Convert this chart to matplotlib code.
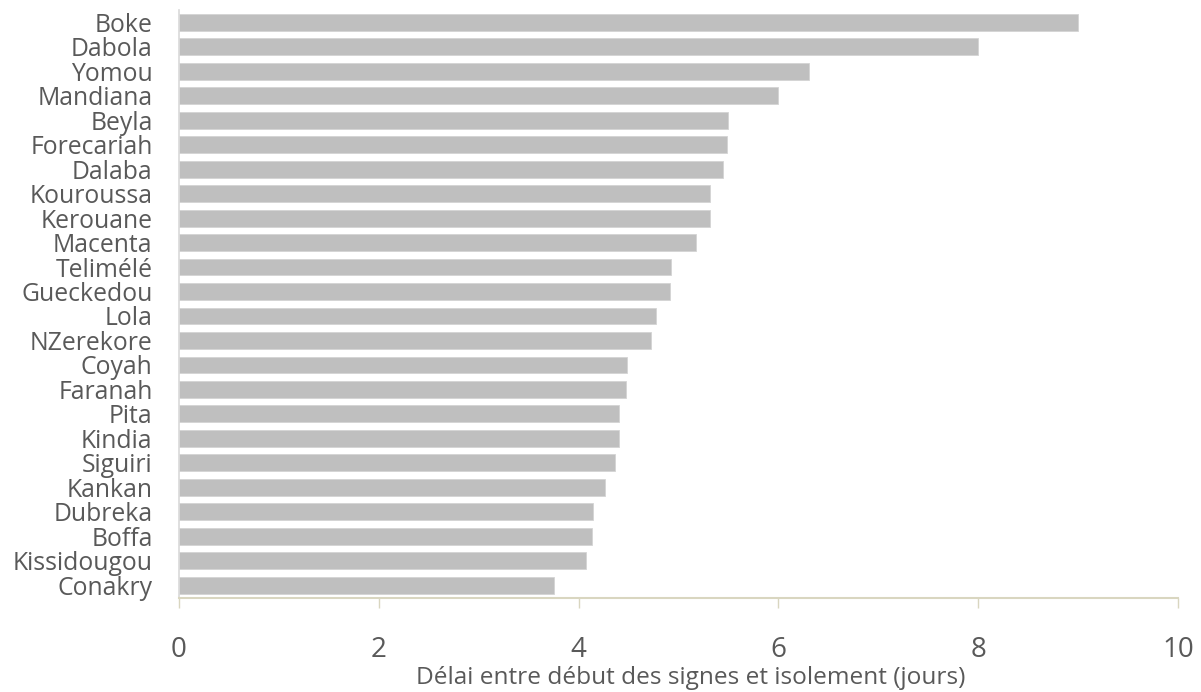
import matplotlib
matplotlib.use("Agg")
import matplotlib.pyplot as plt

districts = ["Boke", "Dabola", "Yomou", "Mandiana", "Beyla", "Forecariah", "Dalaba",
             "Kouroussa", "Kerouane", "Macenta", "Telimélé", "Gueckedou", "Lola",
             "NZerekore", "Coyah", "Faranah", "Pita", "Kindia", "Siguiri", "Kankan",
             "Dubreka", "Boffa", "Kissidougou", "Conakry"]
delays = [9.0, 8.0, 6.31, 6.0, 5.50, 5.49, 5.45, 5.32, 5.32, 5.18, 4.92, 4.91, 4.77,
          4.72, 4.48, 4.47, 4.40, 4.40, 4.36, 4.26, 4.14, 4.13, 4.07, 3.75]
xticks = [0, 2, 4, 6, 8, 10]
xlabel = "Délai entre début des signes et isolement (jours)"

plt.rcParams['font.family'] = ['Open Sans', 'DejaVu Sans']
text_color = '#595959'

fig = plt.figure(figsize=(12.01, 6.92), dpi=100)
ax = fig.add_axes([179/1201, 1 - 597.5/692, (1178-179)/1201, (597.5-10)/692])

ypos = list(range(len(districts)))
ax.barh(ypos, delays, height=0.69, color='#bfbfbf', edgecolor='#d4d4d4', linewidth=0.6)
ax.set_ylim(len(districts) - 0.5, -0.5)
ax.set_xlim(0, 10)
ax.set_yticks(ypos)
ax.set_yticklabels(districts, fontsize=17.8, color=text_color)
ax.set_xticks(xticks)
ax.set_xticklabels([str(t) for t in xticks], fontsize=20, color=text_color)
ax.tick_params(axis='y', length=0, pad=19)
ax.tick_params(axis='x', length=7, width=1, color='#d9d6c0', direction='out', pad=21)

for s in ['top', 'right']:
    ax.spines[s].set_visible(False)
ax.spines['left'].set_color('#d9d9d9')
ax.spines['left'].set_linewidth(1.2)
ax.spines['bottom'].set_color('#d9d6c0')
ax.spines['bottom'].set_linewidth(1.5)

ax.set_xlabel(xlabel, fontsize=17.6, color=text_color)
ax.xaxis.set_label_coords((691 - 179) / 999, -(666 - 597.5) / 587.5)

fig.savefig("out.png", dpi=100)
